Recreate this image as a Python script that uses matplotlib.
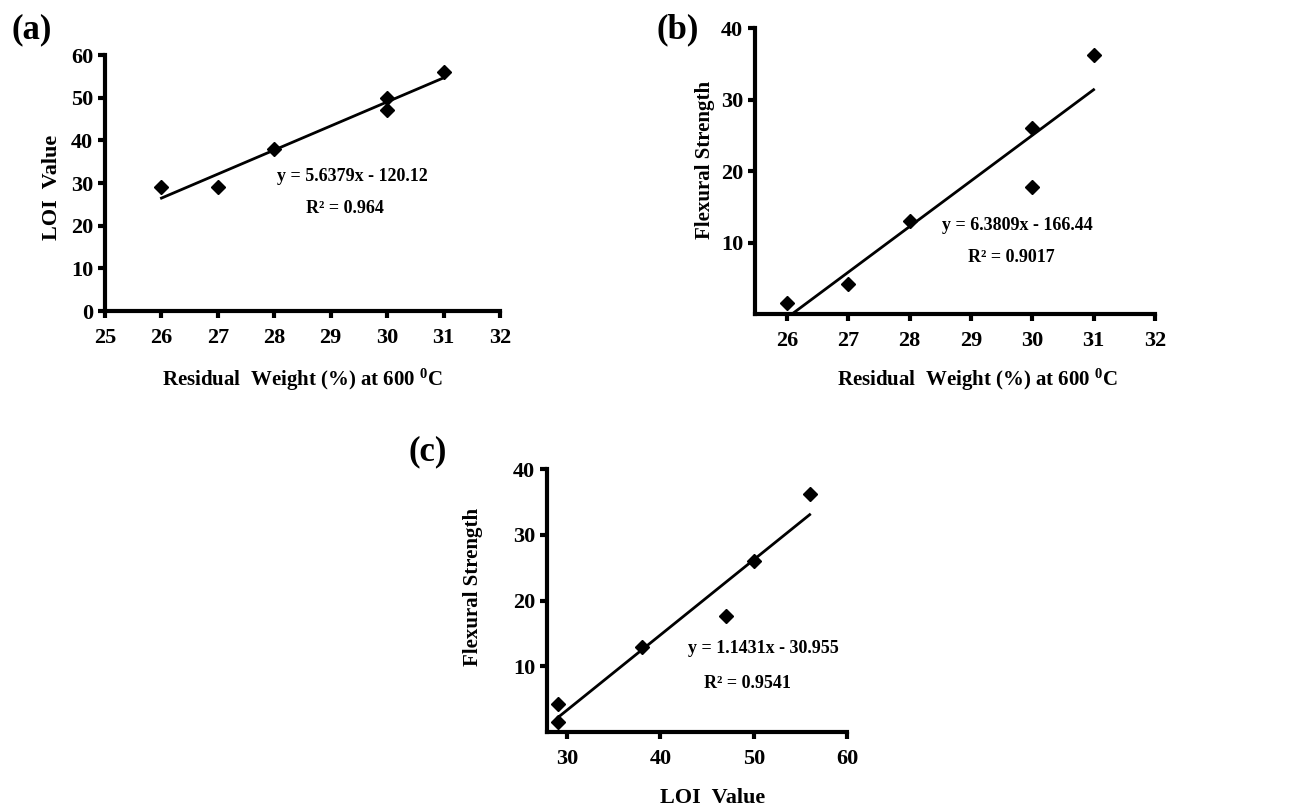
import matplotlib
matplotlib.use("Agg")
import matplotlib.pyplot as plt
import numpy as np

plt.rcParams['font.family'] = ['Liberation Serif', 'DejaVu Serif']
plt.rcParams['font.weight'] = 'bold'
plt.rcParams['axes.labelweight'] = 'bold'
plt.rcParams['mathtext.fontset'] = 'custom'
plt.rcParams['mathtext.rm'] = 'Liberation Serif:bold'
plt.rcParams['mathtext.it'] = 'Liberation Serif:bold'
plt.rcParams['mathtext.bf'] = 'Liberation Serif:bold'

# data
residual_weight = [26, 27, 28, 30, 30, 31]
loi_value = [29, 29, 38, 50, 47, 56]
flex_strength = [1.5, 4.2, 13, 26, 17.7, 36.2]

# panel (c): LOI vs flexural strength
loi_c = [29, 29, 38, 47, 50, 56]
flex_c = [4.2, 1.5, 13, 17.7, 26, 36.2]

# fitted lines given on the chart
fit_a = (5.6379, -120.12)
fit_b = (6.3809, -166.44)
fit_c = (1.1431, -30.955)
eq_a = ["y = 5.6379x - 120.12", "R² = 0.964"]
eq_b = ["y = 6.3809x - 166.44", "R² = 0.9017"]
eq_c = ["y = 1.1431x - 30.955", "R² = 0.9541"]

xlab_rw = r'Residual  Weight (%) at 600 $^{0}$C'


def style(ax):
    for s in ['top', 'right']:
        ax.spines[s].set_visible(False)
    for s in ['left', 'bottom']:
        ax.spines[s].set_linewidth(3)
    ax.tick_params(axis='both', width=3, length=5, labelsize=16, direction='out')
    ax.tick_params(axis='x', pad=7)


def panel(ax, x, y, fit, eq, eqpos):
    ax.plot(x, y, 'D', color='black', markersize=7.5, clip_on=False, zorder=3)
    xs = np.array([min(x), max(x)])
    ax.plot(xs, fit[0] * xs + fit[1], color='black', lw=2)
    ax.text(eqpos[0], eqpos[1], eq[0], transform=ax.transAxes, ha='center', va='center', fontsize=13)
    ax.text(eqpos[2], eqpos[3], eq[1], transform=ax.transAxes, ha='center', va='center', fontsize=13)
    style(ax)


fig = plt.figure(figsize=(12.89, 8.07), dpi=100)

# (a)
ax1 = fig.add_axes([0.0815, 0.6146, 0.3064, 0.3172])
panel(ax1, residual_weight, loi_value, fit_a, eq_a, (0.625, 0.527, 0.608, 0.402))
ax1.set_xlim(25, 32)
ax1.set_ylim(0, 60)
ax1.set_xticks(range(25, 33))
ax1.set_yticks(range(0, 61, 10))
ax1.set_xlabel(xlab_rw, fontsize=15, va='center')
ax1.xaxis.set_label_coords(0.5, -0.27)
ax1.set_ylabel('LOI  Value', fontsize=16, va='center')
ax1.yaxis.set_label_coords(-0.134, 0.484)

# (b)
ax2 = fig.add_axes([0.5857, 0.6109, 0.3103, 0.3544])
panel(ax2, residual_weight, flex_strength, fit_b, eq_b, (0.655, 0.308, 0.64, 0.196))
ax2.set_xlim(25.48, 32)
ax2.set_ylim(0, 40)
ax2.set_xticks(range(26, 33))
ax2.set_yticks(range(10, 41, 10))
ax2.set_xlabel(xlab_rw, fontsize=15, va='center')
ax2.xaxis.set_label_coords(0.555, -0.231)
ax2.set_ylabel('Flexural Strength', fontsize=15, va='center')
ax2.yaxis.set_label_coords(-0.125, 0.538)

# (c)
ax3 = fig.add_axes([0.4244, 0.0929, 0.2327, 0.3259])
panel(ax3, loi_c, flex_c, fit_c, eq_c, (0.72, 0.319, 0.667, 0.186))
ax3.set_xlim(27.85, 60)
ax3.set_ylim(0, 40)
ax3.set_xticks(range(30, 61, 10))
ax3.set_yticks(range(10, 41, 10))
ax3.set_xlabel('LOI  Value', fontsize=16, va='center')
ax3.xaxis.set_label_coords(0.553, -0.251)
ax3.set_ylabel('Flexural Strength', fontsize=15, va='center')
ax3.yaxis.set_label_coords(-0.247, 0.551)

fig.text(32 / 1289, 1 - 30 / 807, '(a)', fontsize=25, ha='center', va='center')
fig.text(678 / 1289, 1 - 30 / 807, '(b)', fontsize=25, ha='center', va='center')
fig.text(428 / 1289, 1 - 452 / 807, '(c)', fontsize=25, ha='center', va='center')

fig.savefig('out.png', dpi=100)
